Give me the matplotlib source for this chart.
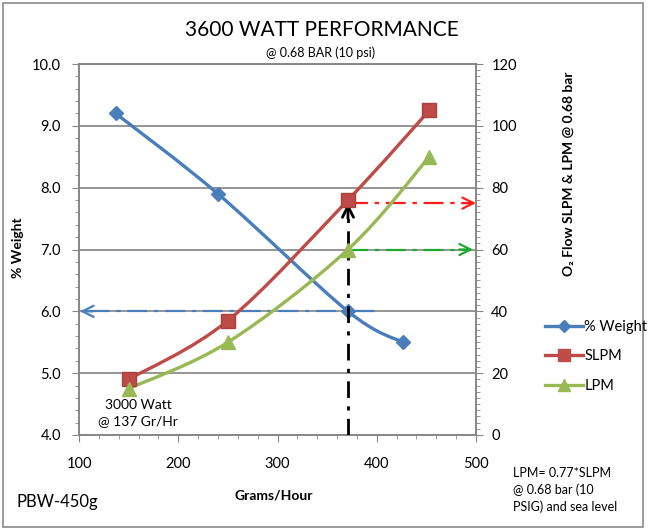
import matplotlib.pyplot as plt
from matplotlib.lines import Line2D
from matplotlib.path import Path
from matplotlib.patches import PathPatch, Rectangle
from matplotlib.ticker import MultipleLocator

plt.rcParams["font.family"] = ["Lato", "DejaVu Sans"]

# values
GRAMS_WEIGHT = [137, 240, 371, 426]
PCT_WEIGHT = [9.2, 7.9, 6.0, 5.5]
GRAMS_FLOW = [150, 250, 371, 453]
SLPM = [18, 37, 76, 105]
LPM = [15, 30, 60, 90]

# operating point guides
OP_GRAMS = 371
OP_WEIGHT = 6.0
OP_SLPM = 75
OP_LPM = 60

BLUE = "#4A7EBB"
RED = "#BE4B48"
GREEN = "#98B954"
GRID = "#8C8C8C"
SPINE = "#868686"

W, H = 650, 532


def fx(px):
    return px / W


def fy(py):
    return 1 - py / H


def smooth(ax, xs, ys, color):
    # Excel-style smoothed line: cubic bezier through the points
    pts = list(zip(xs, ys))
    verts = [pts[0]]
    codes = [Path.MOVETO]
    n = len(pts)
    for i in range(n - 1):
        p0 = pts[max(i - 1, 0)]
        p1 = pts[i]
        p2 = pts[i + 1]
        p3 = pts[min(i + 2, n - 1)]
        c1 = (p1[0] + (p2[0] - p0[0]) / 6, p1[1] + (p2[1] - p0[1]) / 6)
        c2 = (p2[0] - (p3[0] - p1[0]) / 6, p2[1] - (p3[1] - p1[1]) / 6)
        verts += [c1, c2, p2]
        codes += [Path.CURVE4] * 3
    ax.add_patch(PathPatch(Path(verts, codes), fill=False, edgecolor=color,
                           lw=2.4, zorder=4))


def guide(ax, x0, y0, x1, y1, tip, back, color, lw=1.6, dashes=(9, 3, 2, 3)):
    ax.plot([x0, x1], [y0, y1], color=color, lw=lw, dashes=dashes, zorder=3)
    ax.annotate("", xy=tip, xytext=back,
                arrowprops=dict(arrowstyle="->", color=color, lw=lw,
                                mutation_scale=20, shrinkA=0, shrinkB=0),
                zorder=3)


fig = plt.figure(figsize=(6.5, 5.32), dpi=100)
fig.add_artist(Rectangle((fx(3), fy(527)), fx(640), 524 / H, transform=fig.transFigure,
                         fill=False, edgecolor="#8A8A8A", lw=1.2))

ax = fig.add_axes([fx(79), fy(435), fx(397), 371 / H])
ax2 = ax.twinx()

ax.set_xlim(100, 500)
ax.set_ylim(4.0, 10.0)
ax2.set_ylim(0, 120)

ax.xaxis.set_major_locator(MultipleLocator(100))
ax.xaxis.set_minor_locator(MultipleLocator(20))
ax.yaxis.set_major_locator(MultipleLocator(1.0))
ax.yaxis.set_minor_locator(MultipleLocator(0.2))
ax2.yaxis.set_major_locator(MultipleLocator(20))
ax2.yaxis.set_minor_locator(MultipleLocator(2))
ax.yaxis.set_major_formatter(lambda v, p: f"{v:.1f}")

for a in (ax, ax2):
    for s in a.spines.values():
        s.set_color(SPINE)
        s.set_linewidth(1.2)
    a.tick_params(which="major", direction="out", length=5, color=SPINE,
                  labelsize=10.5)
    a.tick_params(which="minor", direction="out", length=3, color=SPINE)
ax.tick_params(axis="x", pad=11)
ax.tick_params(axis="y", pad=8)
ax2.tick_params(axis="y", pad=6)

ax.yaxis.grid(True, color=GRID, lw=1.3)
ax.set_axisbelow(True)

# curves
smooth(ax, GRAMS_WEIGHT, PCT_WEIGHT, BLUE)
ax.plot(GRAMS_WEIGHT, PCT_WEIGHT, ls="none", marker="D", ms=7, color=BLUE, zorder=5)
smooth(ax2, GRAMS_FLOW, SLPM, RED)
ax2.plot(GRAMS_FLOW, SLPM, ls="none", marker="s", ms=10, color=RED,
         mec="#A8403D", zorder=5)
smooth(ax2, GRAMS_FLOW, LPM, GREEN)
ax2.plot(GRAMS_FLOW, LPM, ls="none", marker="^", ms=10, color=GREEN, zorder=5)

# guides
guide(ax, 397, OP_WEIGHT, 102, OP_WEIGHT, (101, OP_WEIGHT), (114, OP_WEIGHT), BLUE)
guide(ax2, OP_GRAMS, 0, OP_GRAMS, OP_SLPM - 1, (OP_GRAMS, OP_SLPM), (OP_GRAMS, OP_SLPM - 5),
      "black", lw=2, dashes=(6, 3, 1.5, 3))
guide(ax2, OP_GRAMS, OP_SLPM, 498, OP_SLPM, (500, OP_SLPM), (486, OP_SLPM), "#FF1E1E")
guide(ax2, OP_GRAMS, OP_LPM, 495, OP_LPM, (497, OP_LPM), (483, OP_LPM), "#1FA82E")

# texts
fig.text(fx(322), fy(30), "3600 WATT PERFORMANCE", ha="center", va="center", fontsize=15)
fig.text(fx(321), fy(53), "@ 0.68 BAR (10 psi)", ha="center", va="center", fontsize=9)
fig.text(fx(18), fy(248), "% Weight", ha="center", va="center", rotation=90,
         fontsize=10, fontweight="bold")
fig.text(fx(569), fy(174), "O\u2082 Flow SLPM & LPM @ 0.68 bar", ha="center",
         va="center", rotation=90, fontsize=10, fontweight="bold")
fig.text(fx(274), fy(495), "Grams/Hour", ha="center", va="center", fontsize=10,
         fontweight="bold")
fig.text(fx(138), fy(413), "3000 Watt\n@ 137 Gr/Hr", ha="center", va="center",
         fontsize=10, linespacing=1.35)
fig.text(fx(17), fy(502), "PBW-450g", ha="left", va="center", fontsize=12)
fig.text(fx(513), fy(490), "LPM= 0.77*SLPM\n@ 0.68 bar (10\nPSIG) and sea level",
         ha="left", va="center", fontsize=9, linespacing=1.45)

handles = [
    Line2D([], [], color=BLUE, lw=2.4, marker="D", ms=6),
    Line2D([], [], color=RED, lw=2.4, marker="s", ms=8),
    Line2D([], [], color=GREEN, lw=2.4, marker="^", ms=8),
]
fig.legend(handles, ["% Weight", "SLPM", "LPM"], loc="upper left",
           bbox_to_anchor=(fx(532), fy(307)), frameon=False, fontsize=10.5,
           handlelength=2.6, handletextpad=0.1, labelspacing=1.05)

fig.savefig("out.png", dpi=100)
